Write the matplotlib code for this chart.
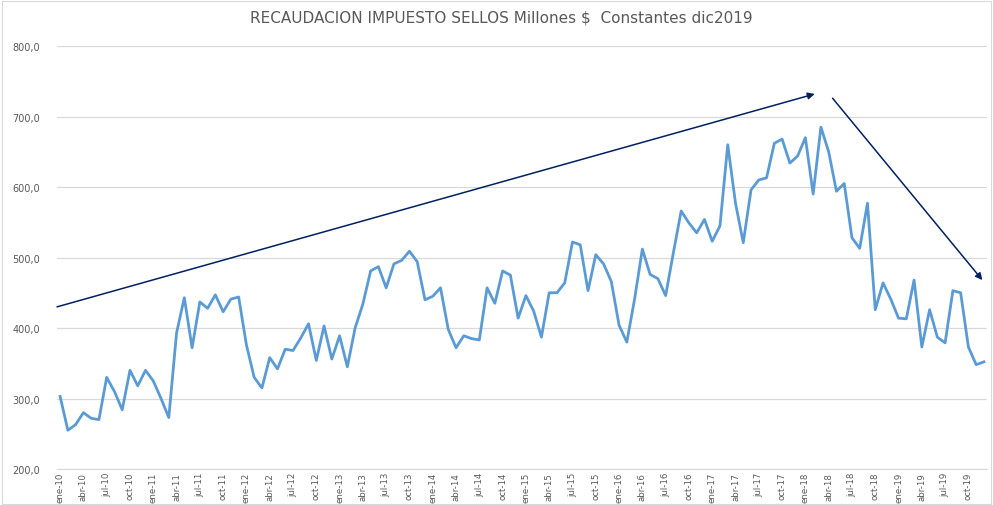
import numpy as np
import matplotlib
matplotlib.use('Agg')
from matplotlib import pyplot as plt
from matplotlib.patches import Rectangle

# monthly values ene-10 .. dic-19 (Millones $ constantes dic2019)
values = [303, 255, 263, 280, 272, 270, 330, 310, 284, 340, 318, 340,
          325, 300, 273, 393, 443, 372, 437, 428, 447, 423, 441, 444,
          376, 330, 315, 358, 342, 370, 368, 386, 406, 354, 403, 356,
          389, 345, 400, 434, 481, 487, 457, 491, 496, 509, 494, 440,
          445, 457, 398, 372, 389, 385, 383, 457, 435, 481, 475, 414,
          446, 424, 387, 450, 450, 464, 522, 518, 453, 504, 491, 466,
          404, 380, 441, 512, 476, 470, 446, 507, 566, 549, 535, 554,
          523, 545, 660, 577, 521, 596, 610, 613, 662, 668, 634, 644,
          670, 590, 685, 650, 594, 605, 528, 513, 577, 426, 464, 441,
          414, 413, 468, 373, 426, 387, 379, 453, 450, 373, 348, 352]

months = ['ene', 'feb', 'mar', 'abr', 'may', 'jun',
          'jul', 'ago', 'sep', 'oct', 'nov', 'dic']
years = list(range(10, 20))
labels = ['%s-%02d' % (m, y) for y in years for m in months]

# trend arrows (start, end) in data coords
arrow_up = ((-0.4, 430), (97.2, 732))
arrow_down = ((99.5, 726), (118.8, 468))

fig = plt.figure(figsize=(9.93, 5.06), dpi=100)
ax = fig.add_axes([0.0574, 0.0711, 0.9366, 0.836])

x = np.arange(len(values))
ax.plot(x, values, color='#5B9BD5', lw=2.0, solid_joinstyle='round')

ax.set_ylim(200, 800)
ax.set_xlim(-0.4, 119.4)
ax.set_yticks(np.arange(200, 801, 100))
ax.set_yticklabels(['%d,0' % v for v in range(200, 801, 100)])
ax.set_xticks(x[::3])
ax.set_xticklabels(labels[::3], rotation=90,
                   family=['Liberation Sans Narrow', 'DejaVu Sans'])

ax.grid(axis='y', color='#D9D9D9', lw=0.9)
ax.set_axisbelow(True)
for s in ['top', 'right', 'left']:
    ax.spines[s].set_visible(False)
ax.spines['bottom'].set_color('#D9D9D9')
ax.tick_params(axis='both', length=0, labelsize=7, labelcolor='#595959')
ax.tick_params(axis='x', pad=2, labelsize=6.2)
ax.tick_params(axis='y', pad=12)

for (x0, y0), (x1, y1) in [arrow_up, arrow_down]:
    ax.annotate('', xy=(x1, y1), xytext=(x0, y0),
                arrowprops=dict(arrowstyle='-|>', color='#002060', lw=1.1,
                                mutation_scale=10, shrinkA=0, shrinkB=0),
                annotation_clip=False)

fig.text(0.505, 0.965, 'RECAUDACION IMPUESTO SELLOS Millones $  Constantes dic2019',
         ha='center', va='center', fontsize=11, color='#595959')

fig.patches.append(Rectangle((0.002, 0.002), 0.996, 0.994, transform=fig.transFigure,
                             fill=False, edgecolor='#D9D9D9', lw=0.8))

fig.savefig('out.png', dpi=100)
